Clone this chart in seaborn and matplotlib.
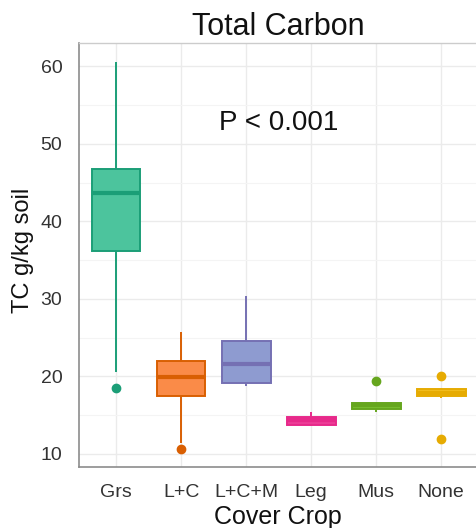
import numpy as np
import pandas as pd
import seaborn as sns
import matplotlib.pyplot as plt
from matplotlib.ticker import MultipleLocator

crops = ["Grs", "L+C", "L+C+M", "Leg", "Mus", "None"]
grs = [18.5, 20.6, 36.2, 38.0, 43.6, 45.0, 46.7, 52.0, 60.5]
lc = [10.6, 11.4, 17.5, 18.5, 19.9, 21.0, 22.0, 24.0, 25.7]
lcm = [18.8, 19.0, 19.2, 20.0, 21.6, 23.0, 24.6, 27.0, 30.3]
leg = [13.6, 13.65, 13.7, 14.0, 14.3, 14.5, 14.8, 15.0, 15.4]
mus = [15.4, 15.6, 15.8, 16.0, 16.25, 16.4, 16.6, 16.6, 19.4]
none = [11.9, 17.2, 17.4, 17.7, 17.85, 18.2, 18.4, 18.5, 20.1]
values = [grs, lc, lcm, leg, mus, none]

fills = ["#4CC49D", "#FA8B48", "#8E9BD0", "#EC3C97", "#78BE2F", "#F2BE1E"]
lines = ["#1B9E77", "#D95F02", "#7570B3", "#E7298A", "#66A61E", "#E6AB02"]

sns.set_theme(style="whitegrid")
plt.rcParams['font.family'] = ['Liberation Sans', 'DejaVu Sans']

df = pd.DataFrame({
    "crop": np.repeat(crops, [len(v) for v in values]),
    "tc": np.concatenate(values),
})

fig = plt.figure(figsize=(4.77, 5.28), dpi=100)
ax = fig.add_axes([79/477, 1 - 467/528, (477 - 79)/477, (467 - 43)/528])

sns.boxplot(data=df, x="crop", y="tc", hue="crop", order=crops, hue_order=crops,
            palette=fills, width=0.75, showcaps=False, whis=1.5, legend=False,
            dodge=False, saturation=1, linewidth=1.4, fliersize=6,
            flierprops={"marker": "o"}, ax=ax, zorder=3)

for cont, col in zip(ax.containers, lines):
    for b in cont.boxes:
        b.set_edgecolor(col)
    for m in cont.medians:
        m.set_color(col)
        m.set_linewidth(3)
    for w in cont.whiskers:
        w.set_color(col)
    for f in cont.fliers:
        f.set_marker('o')
        f.set_markerfacecolor(col)
        f.set_markeredgecolor(col)

ax.set_xlim(-0.57, 5.55)
ax.set_ylim(8.3, 63)
ax.set_yticks([10, 20, 30, 40, 50, 60])
ax.yaxis.set_minor_locator(MultipleLocator(5))
ax.grid(which='major', color='#EBEBEB', lw=1.0)
ax.grid(which='minor', axis='y', color='#F4F4F4', lw=0.8)
ax.set_axisbelow(True)

ax.tick_params(axis='both', which='major', length=6, width=1.2, color='#333333',
               direction='out', labelsize=14, labelcolor='#333333', pad=6)
ax.tick_params(which='minor', length=0)

for s in ['left', 'bottom']:
    ax.spines[s].set_color('#8C8C8C')
    ax.spines[s].set_linewidth(1.2)
ax.spines['top'].set_color('#CCCCCC')
ax.spines['top'].set_linewidth(1.0)
ax.spines['right'].set_visible(False)

ax.set_xlabel("Cover Crop", fontsize=18, color='#111111', labelpad=3)
ax.set_ylabel("TC g/kg soil", fontsize=17, color='#111111')
ax.yaxis.set_label_coords(-0.113, 0.512)
ax.set_title("Total Carbon", fontsize=22, color='#111111', pad=6)

ax.text(2.5, 52.7, "P < 0.001", ha='center', va='center', fontsize=20, color='#111111')

fig.savefig("out.png", dpi=100)
